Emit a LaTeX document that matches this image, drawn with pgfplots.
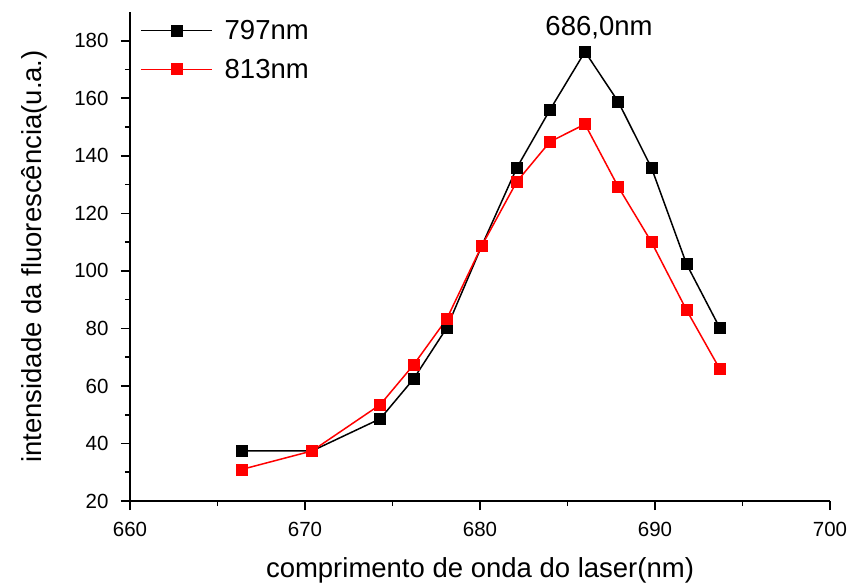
\documentclass[border=0pt]{standalone}
\usepackage{pgfplots}
\pgfplotsset{compat=1.18}
\usepackage{fontspec}
\setmainfont{Liberation Sans}

% Fluorescence intensity versus laser wavelength, two excitation lines
\pgfplotstableread{
x      y
666.4  37.4
670.4  37.4
674.3  48.6
676.2  62.4
678.1  80.2
680.1  108.7
682.1  135.8
684.0  156.0
686.0  176.2
687.9  158.8
689.8  135.8
691.8  102.4
693.7  80.2
}\seriesA

\pgfplotstableread{
x      y
666.4  31.0
670.4  37.4
674.3  53.5
676.2  67.3
678.1  83.3
680.1  108.7
682.1  131.0
684.0  144.9
686.0  151.0
687.9  129.2
689.8  110.0
691.8  86.4
693.7  65.9
}\seriesB

\begin{document}
\begin{tikzpicture}
\begin{axis}[
  scale only axis,
  width=700pt, height=489pt,
  xmin=660, xmax=700, ymin=20, ymax=190,
  axis lines*=left,
  axis line style={line width=1.6pt},
  tick align=outside,
  major tick length=9pt, minor tick length=5pt,
  every tick/.style={black, line width=1.6pt},
  xtick={660,670,...,700}, ytick={20,40,...,180},
  minor x tick num=1, minor y tick num=1,
  /pgf/number format/assume math mode=true,
  tick label style={font=\fontsize{20.5}{24}\selectfont},
  xticklabel shift=9pt, yticklabel shift=9pt,
  label style={font=\fontsize{27.5}{32}\selectfont},
  xlabel={comprimento de onda do laser(nm)},
  ylabel={intensidade da fluorescência(u.a.)},
  xlabel style={yshift=-14pt},
  ylabel style={yshift=20pt},
  legend cell align=left,
  legend style={draw=none, fill=none, at={(7pt,-4pt)}, anchor=north west,
    at={(rel axis cs:0,1)}, xshift=7pt, yshift=-4pt,
    row sep=14pt,
    /tikz/every odd column/.append style={column sep=10pt},
    font=\fontsize{27.5}{32}\selectfont},
  legend image code/.code={%
    \draw[mark repeat=2, mark phase=2]
      plot coordinates {(0pt,0pt) (36pt,0pt) (71pt,0pt)};},
  clip=false,
]
\addplot[black, line width=1.5pt, mark=square*, mark size=5.5pt,
  mark options={solid, fill=black, draw=black, line width=0.6pt}]
  table[x=x, y=y] {\seriesA};
\addlegendentry{797nm}
\addplot[red, line width=1.5pt, mark=square*, mark size=5.5pt,
  mark options={solid, fill=red, draw=red, line width=0.6pt}]
  table[x=x, y=y] {\seriesB};
\addlegendentry{813nm}

\node[font=\fontsize{27.5}{32}\selectfont] at (axis cs:686.8,184.5) {686,0nm};

\coordinate (sw) at (rel axis cs:0,0);
\coordinate (ne) at (rel axis cs:1,1);
\end{axis}
\pgfresetboundingbox
\path ([shift={(-130pt,-86pt)}]sw) rectangle ([shift={(18pt,12pt)}]ne);
\end{tikzpicture}
\end{document}
